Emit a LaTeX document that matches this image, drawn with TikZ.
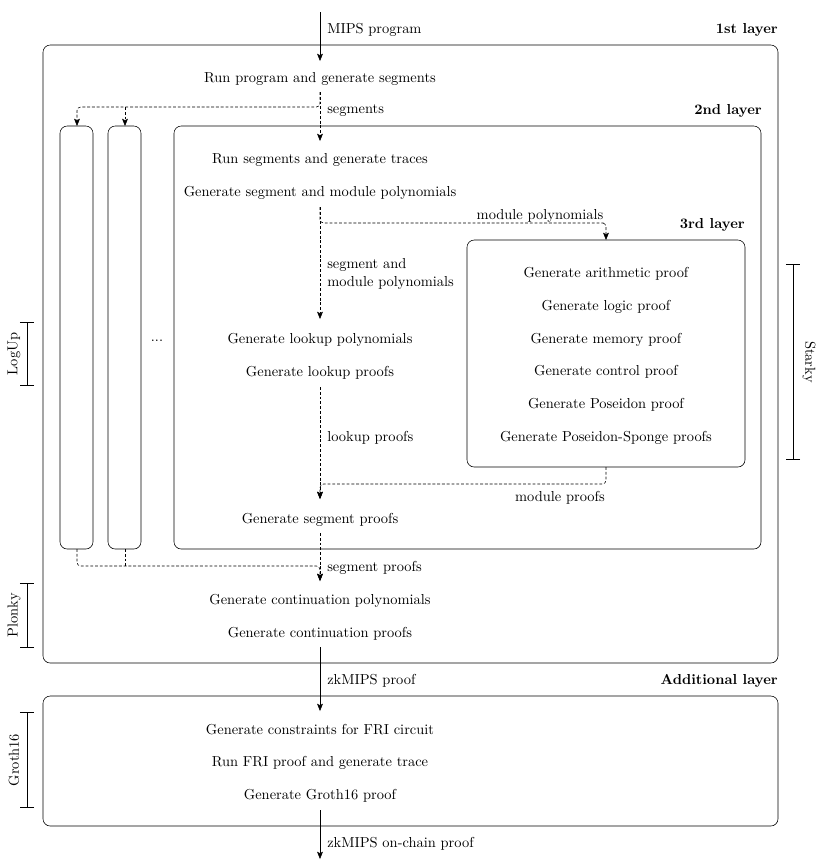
\documentclass[tikz,border=0pt]{standalone}
\usetikzlibrary{arrows.meta}
\tikzset{
  layerbox/.style={draw, rounded corners=5pt, thin},
  lbl/.style={anchor=west, inner sep=0pt, yshift=-1.3pt},
  ttl/.style={anchor=east, font=\bfseries, inner sep=0pt, yshift=-1.3pt},
  txt/.style={inner sep=0pt, yshift=-1.3pt},
  rtxt/.style={inner sep=0pt},
  flow/.style={draw, thin, -{Stealth[length=5pt,width=4pt,inset=1pt]}},
  dflow/.style={flow, dash pattern=on 2pt off 1.3pt, rounded corners=2.5pt},
  dline/.style={draw, thin, dash pattern=on 2pt off 1.3pt, rounded corners=2.5pt},
  brk/.style={draw, thin, {Bar[width=10pt]}-{Bar[width=10pt]}},
}
\begin{document}
\begin{tikzpicture}[x=0.692pt,y=-0.692pt]
\useasboundingbox (0,0) rectangle (818,864);
% boxes
\draw[layerbox] (43,45) rectangle (778,663);
\draw[layerbox] (60,126) rectangle (93,549);
\draw[layerbox] (108,126) rectangle (141,549);
\draw[layerbox] (174,126) rectangle (761,549);
\draw[layerbox] (467,240) rectangle (745,467);
\draw[layerbox] (43,696) rectangle (778,826);
% coordinates of bars
\coordinate (barAtop) at (77,126);
\coordinate (barBtop) at (125,126);
\coordinate (barAbot) at (77,549);
\coordinate (barBbot) at (125,549);
\coordinate (l3top) at (606,240);
\coordinate (l3bot) at (606,467);
% titles
\node[ttl] (t1) at (778,28) {1st layer};
\node[ttl] (t2) at (762,109) {2nd layer};
\node[ttl] (t3) at (745,223) {3rd layer};
\node[ttl] (t4) at (778,679) {Additional layer};
% texts
\node[txt] (runprog) at (320,77) {Run program and generate segments};
\node[txt] (runseg) at (320,158) {Run segments and generate traces};
\node[txt] (genpoly) at (320,191) {Generate segment and module polynomials};
\node[txt] (lookpoly) at (320,338) {Generate lookup polynomials};
\node[txt] (lookproof) at (320,371) {Generate lookup proofs};
\node[txt] (segproof) at (320,518) {Generate segment proofs};
\node[txt] (contpoly) at (320,599) {Generate continuation polynomials};
\node[txt] (contproof) at (320,632) {Generate continuation proofs};
\node[txt] (fri) at (320,728) {Generate constraints for FRI circuit};
\node[txt] (runfri) at (320,761) {Run FRI proof and generate trace};
\node[txt] (groth) at (320,794) {Generate Groth16 proof};
\node[txt] (arith) at (606,272) {Generate arithmetic proof};
\node[txt] (logic) at (606,305) {Generate logic proof};
\node[txt] (mem) at (606,338) {Generate memory proof};
\node[txt] (ctrl) at (606,370) {Generate control proof};
\node[txt] (pos) at (606,403) {Generate Poseidon proof};
\node[txt] (posS) at (606,436) {Generate Poseidon-Sponge proofs};
\node[txt] (dots) at (157,339) {...};
% connector labels
\node[lbl] (lmips) at (327,28) {MIPS program};
\node[lbl] (lseg) at (327,109) {segments};
\node[txt] (lmodp) at (540,214) {module polynomials};
\node[lbl, align=left] (lsmp) at (327,272) {segment and\\module polynomials};
\node[lbl] (llook) at (327,436) {lookup proofs};
\node[txt] (lmodpr) at (560,496) {module proofs};
\node[lbl] (lsegpr) at (327,566) {segment proofs};
\node[lbl] (lzk) at (327,679) {zkMIPS proof};
\node[lbl] (lzkc) at (327,842) {zkMIPS on-chain proof};
% connector coordinates
\coordinate (in) at (320,12);
\coordinate (inE) at (320,61);
\coordinate (s1) at (320,92);
\coordinate (s1E) at (320,141);
\coordinate (s2) at (320,207);
\coordinate (s2E) at (320,319);
\coordinate (s3) at (320,387);
\coordinate (s3E) at (320,499);
\coordinate (s4) at (320,533);
\coordinate (s4E) at (320,581);
\coordinate (s5) at (320,647);
\coordinate (s5E) at (320,711);
\coordinate (s6) at (320,810);
\coordinate (s6E) at (320,859);
% solid arrows
\draw[flow] (in) -- (inE);
\draw[flow] (s5) -- (s5E);
\draw[flow] (s6) -- (s6E);
% dashed arrows
\draw[dflow] (s1) -- (s1E);
\draw[dflow] (s1) -- (320,107) -| (barAtop);
\draw[dflow] (barBtop |- 0,107) -- (barBtop);
\draw[dflow] (s2) -- (s2E);
\draw[dflow] (s2) |- (600,223) -| (l3top);
\draw[dflow] (s3) -- (s3E);
\draw[dflow] (l3bot) -- (606,484) -| (s3E);
\draw[dflow] (s4) -- (s4E);
\draw[dflow] (barAbot) -- (77,566) -| (s4E);
\draw[dline] (barBbot) -- (125,566);
% brackets
\draw[brk] (27,322) -- (27,386);
\node[rotate=90, rtxt] (logup) at (14,354) {LogUp};
\draw[brk] (27,583) -- (27,648);
\node[rotate=90, rtxt] (plonky) at (14,615) {Plonky};
\draw[brk] (27,712) -- (27,808);
\node[rotate=90, rtxt] (groth16) at (14,760) {Groth16};
\draw[brk] (793,264) -- (793,460);
\node[rotate=-90, rtxt] (starky) at (809,362) {Starky};
\end{tikzpicture}
\end{document}
